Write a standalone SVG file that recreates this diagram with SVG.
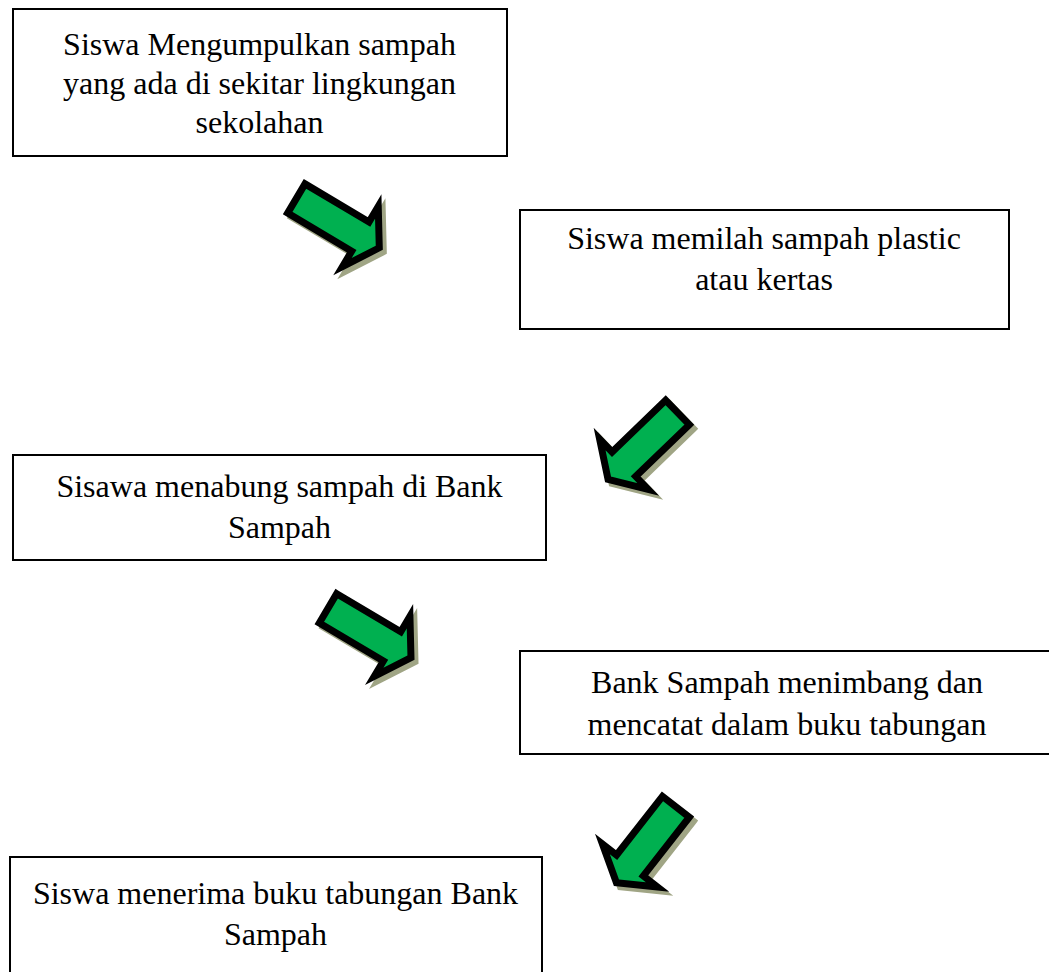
<svg xmlns="http://www.w3.org/2000/svg" xmlns:xlink="http://www.w3.org/1999/xlink" width="1049" height="972" viewBox="0 0 1049 972">
  <style>
    .box { fill: #ffffff; stroke: #000000; stroke-width: 2; }
    .lbl { font-family: "Liberation Serif", "Times New Roman", serif; font-size: 32px; fill: #000000; text-anchor: middle; }
    .arrow { fill: #00B050; stroke: #000000; stroke-width: 7; stroke-linejoin: miter; stroke-miterlimit: 4; }
    .shadow { fill: #a0a585; stroke: #a0a585; stroke-width: 7; stroke-linejoin: miter; stroke-miterlimit: 4; }
  </style>
  <defs>
    <polygon id="blockArrow" points="3.5,-17 78,-17 78,-35 100,0 78,35 78,17 3.5,17"/>
  </defs>
  <rect width="1049" height="972" fill="#ffffff"/>

  <g id="node1">
    <rect class="box" x="13" y="9" width="494" height="147"/>
    <text class="lbl" x="259.5" y="55">Siswa Mengumpulkan sampah</text>
    <text class="lbl" x="259.5" y="94">yang ada di sekitar lingkungan</text>
    <text class="lbl" x="259.5" y="133">sekolahan</text>
  </g>

  <g id="node2">
    <rect class="box" x="520" y="210" width="489" height="119"/>
    <text class="lbl" x="764" y="249">Siswa memilah sampah plastic</text>
    <text class="lbl" x="764" y="290">atau kertas</text>
  </g>

  <g id="node3">
    <rect class="box" x="13" y="455" width="533" height="105"/>
    <text class="lbl" x="279.5" y="497">Sisawa menabung sampah di Bank</text>
    <text class="lbl" x="279.5" y="538">Sampah</text>
  </g>

  <g id="node4">
    <rect class="box" x="520" y="651" width="540" height="103"/>
    <text class="lbl" x="787" y="693">Bank Sampah menimbang dan</text>
    <text class="lbl" x="787" y="735">mencatat dalam buku tabungan</text>
  </g>

  <g id="node5">
    <rect class="box" x="10" y="857" width="532" height="130"/>
    <text class="lbl" x="275.5" y="904">Siswa menerima buku tabungan Bank</text>
    <text class="lbl" x="275.5" y="945">Sampah</text>
  </g>

  <g id="connectors">
    <g id="arrow1">
      <use xlink:href="#blockArrow" href="#blockArrow" class="shadow" transform="translate(297.3,200.7) rotate(30.7)"/>
      <use xlink:href="#blockArrow" href="#blockArrow" class="arrow" transform="translate(293.3,196.7) rotate(30.7)"/>
    </g>
    <g id="arrow2">
      <use xlink:href="#blockArrow" href="#blockArrow" class="shadow" transform="translate(684,414) rotate(136)"/>
      <use xlink:href="#blockArrow" href="#blockArrow" class="arrow" transform="translate(680,410) rotate(136)"/>
    </g>
    <g id="arrow3">
      <use xlink:href="#blockArrow" href="#blockArrow" class="shadow" transform="translate(329,610.5) rotate(30.7)"/>
      <use xlink:href="#blockArrow" href="#blockArrow" class="arrow" transform="translate(325,606.5) rotate(30.7)"/>
    </g>
    <g id="arrow4">
      <use xlink:href="#blockArrow" href="#blockArrow" class="shadow" transform="translate(682,808) rotate(128)"/>
      <use xlink:href="#blockArrow" href="#blockArrow" class="arrow" transform="translate(678,804) rotate(128)"/>
    </g>
  </g>
</svg>
